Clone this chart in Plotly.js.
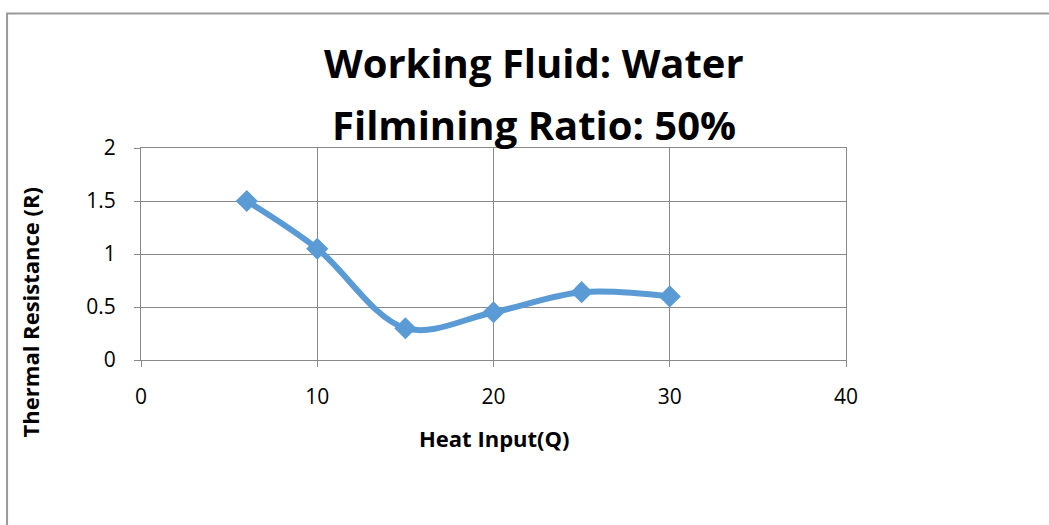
<!DOCTYPE html>
<html><head><meta charset="utf-8">
<script src="https://cdn.plot.ly/plotly-3.0.1.min.js"></script>
<style>html,body{margin:0;padding:0;background:#fff}#chart{width:1049px;height:525px}</style>
</head><body><div id="chart"></div>
<script>
const heatInput = [6, 10, 15, 20, 25, 30];
const thermalResistance = [1.5, 1.05, 0.3, 0.45, 0.64, 0.6];
const titleLines = ["Working Fluid: Water", "Filmining Ratio: 50%"];
const xTitle = "Heat Input(Q)";
const yTitle = "Thermal Resistance (R)";

const FONT = "'Open Sans', sans-serif";
const trace = {
  x: heatInput, y: thermalResistance, type: 'scatter', mode: 'lines+markers',
  line: {color: '#5B9BD5', width: 6, shape: 'spline', smoothing: 1},
  marker: {symbol: 'diamond', size: 17, color: '#5B9BD5'},
  hoverinfo: 'skip'
};
const axisCommon = {
  showgrid: true, gridcolor: '#898989', gridwidth: 1,
  zeroline: false, showline: true, mirror: true, linecolor: '#898989', linewidth: 1,
  ticks: 'outside', ticklen: 6, tickcolor: '#898989',
  tickfont: {family: FONT, size: 21, color: '#000'}, fixedrange: true
};
const layout = {
  width: 1049, height: 525,
  margin: {l: 141, r: 203, t: 148, b: 165},
  paper_bgcolor: '#fff', plot_bgcolor: '#fff',
  showlegend: false,
  font: {family: FONT, color: '#000'},
  xaxis: Object.assign({range: [0, 40], dtick: 10, tick0: 0, ticklabelstandoff: 12}, axisCommon),
  yaxis: Object.assign({range: [0, 2], dtick: 0.5, tick0: 0, ticklabelstandoff: 14}, axisCommon),
  annotations: [
    {text: '<b>' + titleLines[0] + '</b>', xref: 'paper', yref: 'paper', x: 0.5575, y: 1.403, xanchor: 'center', yanchor: 'middle',
     showarrow: false, font: {family: FONT, size: 40, color: '#000'}},
    {text: '<b>' + titleLines[1] + '</b>', xref: 'paper', yref: 'paper', x: 0.5575, y: 1.113, xanchor: 'center', yanchor: 'middle',
     showarrow: false, font: {family: FONT, size: 40, color: '#000'}},
    {text: '<b>' + xTitle + '</b>', xref: 'paper', yref: 'paper', x: 0.5, y: -0.368, xanchor: 'center', yanchor: 'middle',
     showarrow: false, font: {family: FONT, size: 22, color: '#000'}},
    {text: '<b>' + yTitle + '</b>', xref: 'paper', yref: 'paper', x: -0.157, y: 0.226, xanchor: 'center', yanchor: 'middle',
     textangle: -90, showarrow: false, font: {family: FONT, size: 22, color: '#000'}}
  ],
  shapes: [
    {type: 'rect', xref: 'paper', yref: 'paper', x0: -0.19, x1: 1.4, y0: -1, y1: 1.6346,
     line: {color: '#9a9a9a', width: 2}, fillcolor: 'rgba(0,0,0,0)', layer: 'below'}
  ]
};
Plotly.newPlot('chart', [trace], layout, {displayModeBar: false, staticPlot: true});
</script></body></html>
